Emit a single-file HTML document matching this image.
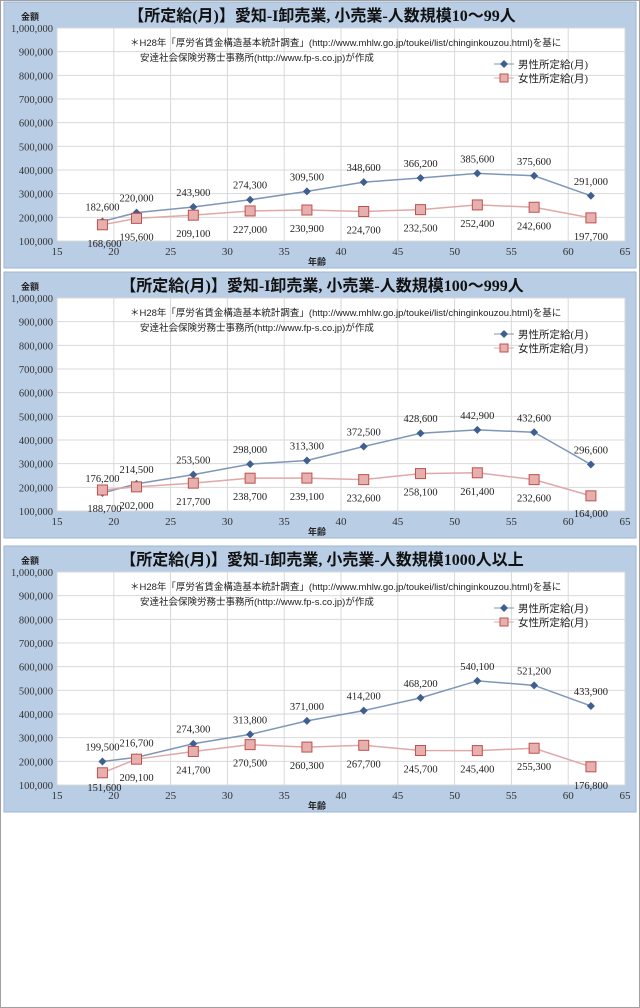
<!DOCTYPE html>
<html><head><meta charset="utf-8">
<style>
html,body{margin:0;padding:0;background:#fff;}
body{width:640px;height:1008px;position:relative;overflow:hidden;font-family:"Liberation Serif","Noto Serif CJK SC","Noto Sans CJK JP",serif;}
#frame{position:absolute;left:0;top:0;width:638px;height:1006px;border:1px solid #a0a0a0;}
svg text{font-family:"Liberation Serif","Noto Sans CJK JP",serif;}
</style></head>
<body>
<div id="frame"></div>
<svg id="svg" width="640" height="1008" style="position:absolute;left:0;top:0"></svg>
<script>
const ages = [19,22,27,32,37,42,47,52,57,62];
const xTicks = [15,20,25,30,35,40,45,50,55,60,65];
const yTicks = [100000,200000,300000,400000,500000,600000,700000,800000,900000,1000000];
const titles = ["【所定給(月)】愛知-I卸売業, 小売業-人数規模10～99人","【所定給(月)】愛知-I卸売業, 小売業-人数規模100～999人","【所定給(月)】愛知-I卸売業, 小売業-人数規模1000人以上"];
const male1 = [182600,220000,243900,274300,309500,348600,366200,385600,375600,291000];
const female1 = [168600,195600,209100,227000,230900,224700,232500,252400,242600,197700];
const male2 = [176200,214500,253500,298000,313300,372500,428600,442900,432600,296600];
const female2 = [188700,202000,217700,238700,239100,232600,258100,261400,232600,164000];
const male3 = [199500,216700,274300,313800,371000,414200,468200,540100,521200,433900];
const female3 = [151600,209100,241700,270500,260300,267700,245700,245400,255300,176800];
const maleSeries=[male1,male2,male3], femaleSeries=[female1,female2,female3];
const tops=[2,272,546];
const NS="http://www.w3.org/2000/svg";
const svg=document.getElementById('svg');
function mk(tag,attrs,parent){const e=document.createElementNS(NS,tag);for(const k in attrs)e.setAttribute(k,attrs[k]);(parent||svg).appendChild(e);return e;}
function fmt(v){return v.toLocaleString('en-US');}
for(let c=0;c<3;c++){
  const T=tops[c];
  const g=mk('g',{});
  
  
  const pl=57,pr=625,pt=T+26,pb=T+239;
  const xS=v=>pl+(v-15)/50*(pr-pl);
  const yS=v=>pb-(v-100000)/900000*(pb-pt);
  const bg=mk('rect',{x:4,y:T,width:632,height:266,fill:'#b9cde5',stroke:'#9fb6d3'},g);
  
  
  const pa=mk('rect',{x:pl,y:pt,width:pr-pl,height:pb-pt,fill:'#fff'},g);
  
  
  yTicks.forEach(v=>{const l=mk('line',{x1:pl,x2:pr,y1:yS(v),y2:yS(v),stroke:'#d9d9d9'},g);
    
    const t=mk('text',{x:pl-4,y:yS(v)+4,'text-anchor':'end','font-size':10.5,fill:'#333'},g);t.textContent=fmt(v);
    });
  xTicks.forEach(v=>{const l=mk('line',{x1:xS(v),x2:xS(v),y1:pt,y2:pb,stroke:'#d9d9d9'},g);
    
    const t=mk('text',{x:xS(v),y:pb+14,'text-anchor':'middle','font-size':11,fill:'#333'},g);t.textContent=v;
    });
  const tt=mk('text',{x:322,y:T+19,'text-anchor':'middle','font-size':16,'font-weight':'bold',fill:'#111'},g);tt.textContent=titles[c];
  
  const yl=mk('text',{x:30,y:T+18,'text-anchor':'middle','font-size':9,'font-weight':'bold',fill:'#222'},g);yl.textContent='金額';
  
  const xl=mk('text',{x:317,y:pb+24,'text-anchor':'middle','font-size':9,'font-weight':'bold',fill:'#222'},g);xl.textContent='年齢';
  
  const n1=mk('text',{x:130,y:pt+18,'font-size':9.5,fill:'#222','style':'font-family:"Liberation Sans","Noto Sans CJK JP",sans-serif'},g);n1.textContent='＊H28年「厚労省賃金構造基本統計調査」(http://www.mhlw.go.jp/toukei/list/chinginkouzou.html)を基に';
  
  const n2=mk('text',{x:140,y:pt+33,'font-size':9.5,fill:'#222','style':'font-family:"Liberation Sans","Noto Sans CJK JP",sans-serif'},g);n2.textContent='安達社会保険労務士事務所(http://www.fp-s.co.jp)が作成';
  
  const lg=mk('g',{},g);
  mk('line',{x1:494,x2:514,y1:pt+36,y2:pt+36,stroke:'#7f96b8'},lg);
  mk('path',{d:`M504 ${pt+32}l4 4l-4 4l-4-4z`,fill:'#3e5f8f'},lg);
  const lt1=mk('text',{x:518,y:pt+40,'font-size':10.5,fill:'#222'},lg);lt1.textContent='男性所定給(月)';
  
  mk('line',{x1:494,x2:514,y1:pt+50,y2:pt+50,stroke:'#e0a8a6'},lg);
  mk('rect',{x:500,y:pt+46,width:8,height:8,fill:'#e6b0ae',stroke:'#c0504d'},lg);
  const lt2=mk('text',{x:518,y:pt+54,'font-size':10.5,fill:'#222'},lg);lt2.textContent='女性所定給(月)';
  
  const M=maleSeries[c],F=femaleSeries[c];
  const pm=mk('polyline',{points:ages.map((a,i)=>xS(a)+','+yS(M[i])).join(' '),fill:'none',stroke:'#7f96b8','stroke-width':1.5},g);
  
  const pf=mk('polyline',{points:ages.map((a,i)=>xS(a)+','+yS(F[i])).join(' '),fill:'none',stroke:'#e0a8a6','stroke-width':1.5},g);
  
  ages.forEach((a,i)=>{
    const x=xS(a),ym=yS(M[i]),yf=yS(F[i]);
    const d=mk('path',{d:`M${x} ${ym-4}l4 4l-4 4l-4-4z`,fill:'#3e5f8f'},g);
    
    const s=mk('rect',{x:x-5,y:yf-5,width:10,height:10,fill:'#e6b0ae',stroke:'#c0504d'},g);
    
    const lm=mk('text',{x:x,y:ym-11,'text-anchor':'middle','font-size':10.5,fill:'#222'},g);lm.textContent=fmt(M[i]);
    
    const lf=mk('text',{x:i==0?x+2:x,y:Math.min(yf+22,pb+6),'text-anchor':'middle','font-size':10.5,fill:'#222'},g);lf.textContent=fmt(F[i]);
    
  });
}
</script>
</body></html>
